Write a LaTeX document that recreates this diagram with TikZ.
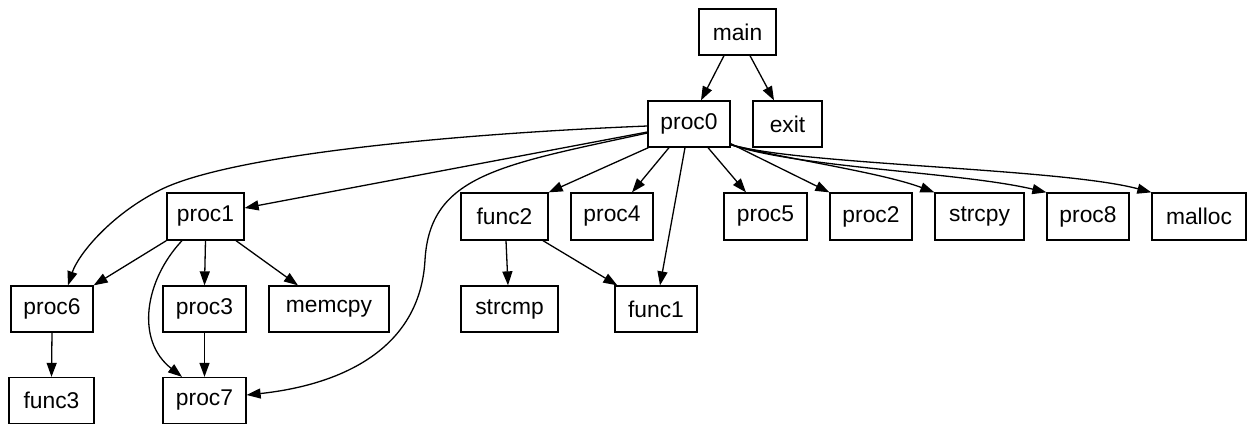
\documentclass[tikz,border=0pt]{standalone}
\usepackage{fontspec}
\setmainfont{Liberation Sans}
\usetikzlibrary{arrows.meta}

\begin{document}
\begin{tikzpicture}[
  x=1pt, y=-1pt,
  font=\fontsize{22.8pt}{27pt}\selectfont,
  fn/.style={draw, line width=1.3pt, minimum height=46pt, inner sep=0pt, minimum width=#1},
  call/.style={-{Triangle[length=14pt, width=10pt]}, line width=1.3pt},
]
\useasboundingbox (0,0) rectangle (1250,424);

% ---------- level 0 and 1 ----------
\node[fn=77pt] (main) at (737.5,32) {main};
\node[fn=82pt] (proc0) at (689,124) {proc0};
\node[fn=69pt] (exit) at (787.5,124) {exit};

% ---------- level 2 ----------
\node[fn=77pt, minimum height=47pt] (proc1) at (205.5,216.5) {proc1};
\node[fn=87pt, minimum height=47pt] (func2) at (504.5,216.5) {func2};
\node[fn=82pt, minimum height=47pt] (proc4) at (612,216.5) {proc4};
\node[fn=83pt, minimum height=47pt] (proc5) at (765.5,216.5) {proc5};
\node[fn=82pt, minimum height=47pt] (proc2) at (871,216.5) {proc2};
\node[fn=89pt, minimum height=47pt] (strcpy) at (979.5,216.5) {strcpy};
\node[fn=82pt, minimum height=47pt] (proc8) at (1088,216.5) {proc8};
\node[fn=94pt, minimum height=47pt] (malloc) at (1199,216.5) {malloc};

% ---------- level 3 ----------
\node[fn=82pt] (proc6) at (52,309) {proc6};
\node[fn=83pt] (proc3) at (204.5,309) {proc3};
\node[fn=120pt] (memcpy) at (329,309) {memcpy};
\node[fn=97pt] (strcmp) at (509.5,309) {strcmp};
\node[fn=82pt] (func1) at (656,309) {func1};

% ---------- level 4 ----------
\node[fn=85pt] (func3) at (51.5,400.5) {func3};
\node[fn=83pt] (proc7) at (204.5,400.5) {proc7};

% calls from main
\draw[call] ([xshift=-13.5pt]main.south) -- ([xshift=12pt]proc0.north);
\draw[call] ([xshift=12.5pt]main.south) -- ([xshift=-13.5pt]exit.north);

% calls from proc0
\draw[call] ([yshift=-2pt]proc0.west) .. controls (450,134) and (230,155) .. (160,190)
  .. controls (110,215) and (78,255) .. ([xshift=16pt]proc6.north);
\draw[call] ([yshift=-8pt]proc0.west) -- ([yshift=8.5pt]proc1.east);
\draw[call] ([yshift=-9pt]proc0.west) .. controls (500,165) and (430,175) .. (425,260)
  .. controls (420,350) and (340,385) .. ([yshift=5.5pt]proc7.east);
\draw[call] ([xshift=1pt]proc0.south west) -- (func2.north east);
\draw[call] ([xshift=-20pt]proc0.south) -- ([xshift=20pt]proc4.north);
\draw[call] ([xshift=-4pt]proc0.south) -- ([xshift=4pt]func1.north);
\draw[call] ([xshift=19pt]proc0.south) -- ([xshift=-19.5pt]proc5.north);
\draw[call] ([yshift=4pt]proc0.south east) -- (proc2.north west);
\draw[call] ([yshift=3pt]proc0.south east) .. controls (780,158) and (880,172) .. (strcpy.north west);
\draw[call] ([yshift=3pt]proc0.south east) .. controls (800,168) and (960,172) .. (proc8.north west);
\draw[call] ([yshift=3pt]proc0.south east) .. controls (800,165) and (1060,168) .. (malloc.north west);

% calls from proc1
\draw[call] (proc1.south west) -- (proc6.north east);
\draw[call] ([xshift=-23.5pt]proc1.south) .. controls (145,280) and (135,340) .. ([xshift=-22.5pt]proc7.north);
\draw[call] (proc1.south) -- (proc3.north);
\draw[call] ([xshift=30.5pt]proc1.south) -- ([xshift=-31pt]memcpy.north);

% remaining calls
\draw[call] (proc3.south) -- (proc7.north);
\draw[call] (proc6.south) -- (func3.north);
\draw[call] ([xshift=1.5pt]func2.south) -- ([xshift=-1.5pt]strcmp.north);
\draw[call] ([xshift=38.5pt]func2.south) -- ([xshift=3pt]func1.north west);

\end{tikzpicture}
\end{document}
